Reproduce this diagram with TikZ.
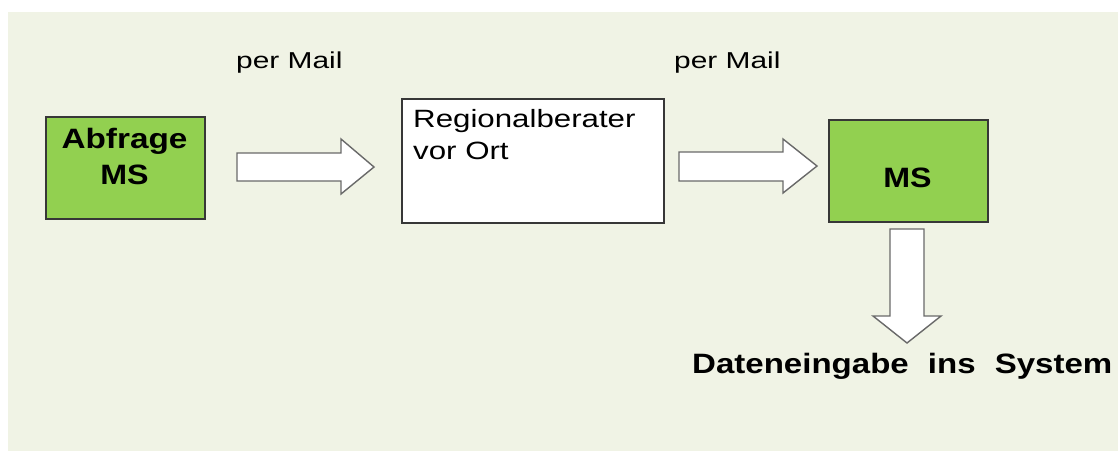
\documentclass[tikz,border=0pt]{standalone}
\usepackage{fontspec}
\setmainfont{Liberation Sans}
\usepackage{graphicx}
\definecolor{panel}{RGB}{240,243,229}
\definecolor{boxgreen}{RGB}{146,208,80}
\definecolor{edge}{RGB}{55,55,55}
\definecolor{arrowedge}{RGB}{105,105,105}
% horizontally widened text
\newcommand{\wtext}[2]{\scalebox{#1}[1]{#2}}
\begin{document}
\begin{tikzpicture}[x=1pt,y=-1pt,
  box/.style={draw=edge, line width=1.5pt, inner sep=0pt, anchor=north west},
  greenbox/.style={box, fill=boxgreen},
  whitebox/.style={box, fill=white},
  blockarrow/.style={draw=arrowedge, fill=white, line width=1.4pt, line join=miter},
  boldlabel/.style={font=\fontsize{28}{28}\selectfont\bfseries, inner sep=0pt, anchor=base},
  plainlabel/.style={font=\fontsize{24}{24}\selectfont, inner sep=0pt, anchor=base west}]

\useasboundingbox (0,0) rectangle (1118,451);
\fill[panel] (8,12) rectangle (1118,451);

% boxes
\node[greenbox, minimum width=159pt, minimum height=102pt] (abfrage) at (45,116) {};
\node[whitebox, minimum width=262pt, minimum height=124pt] (berater) at (401,98) {};
\node[greenbox, minimum width=159pt, minimum height=102pt] (ms) at (828,119) {};

% box texts
\node[boldlabel] (abfrageA) at (124.5,148) {\wtext{1.19}{Abfrage}};
\node[boldlabel] (abfrageB) at (124.5,184) {\wtext{1.15}{MS}};
\node[plainlabel, font=\fontsize{25}{25}\selectfont] (beraterA) at (413,127) {\wtext{1.25}{Regionalberater}};
\node[plainlabel, font=\fontsize{25}{25}\selectfont] (beraterB) at (413,159) {\wtext{1.25}{vor Ort}};
\node[boldlabel] (msA) at (907.5,187) {\wtext{1.15}{MS}};

% transfer labels
\node[plainlabel, font=\fontsize{23}{23}\selectfont] (mail1) at (236,68) {\wtext{1.3}{per Mail}};
\node[plainlabel, font=\fontsize{23}{23}\selectfont] (mail2) at (674,68) {\wtext{1.3}{per Mail}};

% block arrows
\draw[blockarrow] (237,153) -- (341,153) -- (341,139) -- (374,167) -- (341,194) -- (341,181) -- (237,181) -- cycle;
\draw[blockarrow] (679,152) -- (783,152) -- (783,139) -- (817,166) -- (783,193) -- (783,181) -- (679,181) -- cycle;
\draw[blockarrow] (890,229) -- (924,229) -- (924,316) -- (941,316) -- (907,343) -- (873,316) -- (890,316) -- cycle;

% result
\node[boldlabel, anchor=base west] (eingabe) at (692,373)
  {\wtext{1.18}{Dateneingabe\hspace{0.3em} ins\hspace{0.3em} System}};
\end{tikzpicture}
\end{document}
